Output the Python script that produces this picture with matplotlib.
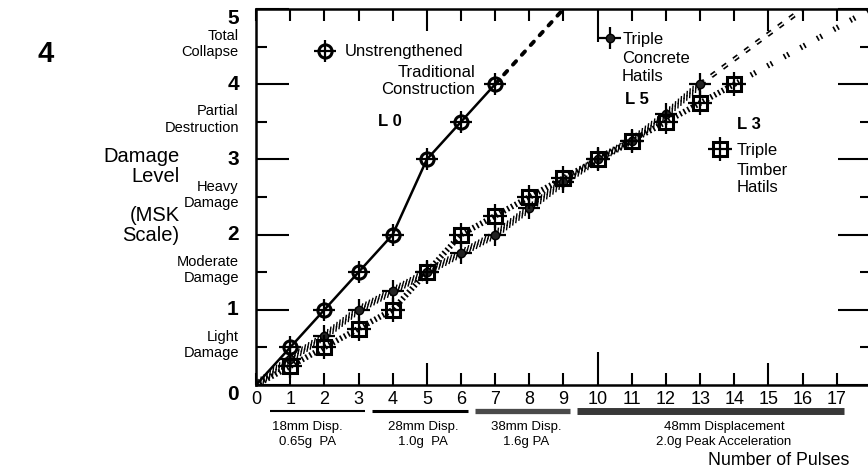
import matplotlib
matplotlib.use("Agg")
import matplotlib.pyplot as plt
import matplotlib.transforms as mtransforms
from matplotlib.legend import Legend
from matplotlib.patheffects import TickedStroke

plt.rcParams['font.family'] = ['Liberation Sans', 'DejaVu Sans']

# damage level (MSK scale) reached after each pulse
pulses_l0 = [0, 1, 2, 3, 4, 5, 6, 7]
damage_l0 = [0, 0.5, 1.0, 1.5, 2.0, 3.0, 3.5, 4.0]

pulses_l5 = [0, 1, 2, 3, 4, 5, 6, 7, 8, 9, 10, 11, 12, 13]
damage_l5 = [0, 0.35, 0.65, 1.0, 1.25, 1.5, 1.75, 2.0, 2.35, 2.7, 3.0, 3.25, 3.6, 4.0]

pulses_l3 = [0, 1, 2, 3, 4, 5, 6, 7, 8, 9, 10, 11, 12, 13, 14]
damage_l3 = [0, 0.25, 0.5, 0.75, 1.0, 1.5, 2.0, 2.25, 2.5, 2.75, 3.0, 3.25, 3.5, 3.75, 4.0]

# extrapolated trends towards collapse
proj_pulses_l0 = [7, 9]
proj_damage_l0 = [4.0, 5.0]
proj_pulses_l5 = [13, 16]
proj_damage_l5 = [4.0, 5.0]
proj_pulses_l3 = [14, 18]
proj_damage_l3 = [4.0, 5.0]

damage_levels = [0, 1, 2, 3, 4, 5]
damage_names = ["", "Light\nDamage", "Moderate\nDamage", "Heavy\nDamage",
                "Partial\nDestruction", "Total\nCollapse"]

pulse_ticks = list(range(18))

# shaking table input phases (first and last pulse)
phase_first = [1, 4, 7, 10]
phase_last = [3, 6, 9, 17]
phase_labels = ["18mm Disp.\n0.65g  PA", "28mm Disp.\n1.0g  PA", "38mm Disp.\n1.6g PA",
                "48mm Displacement\n2.0g Peak Acceleration"]

fig = plt.figure(figsize=(8.68, 4.70), dpi=100)
ax = fig.add_axes([256 / 868, 85 / 470, 615 / 868, 376 / 470])
ax.set_xlim(0, 18.0)
ax.set_ylim(0, 5)

for s in ax.spines.values():
    s.set_linewidth(1.8)

# ticks
ax.set_yticks(damage_levels)
ax.set_yticks([v + 0.5 for v in damage_levels[:-1]], minor=True)
ax.tick_params(axis='y', which='major', direction='in', length=24, width=1.5,
               left=True, right=True, labelleft=False)
ax.tick_params(axis='y', which='minor', direction='in', length=8, width=1.5,
               left=True, right=True)
ax.set_xticks(pulse_ticks)
ax.set_xticklabels([str(p) for p in pulse_ticks], fontsize=13)
ax.tick_params(axis='x', direction='in', length=8.5, width=1.5, top=True, bottom=True, pad=4)
for tick in ax.xaxis.get_major_ticks():
    loc = tick.get_loc()
    if loc == 10:
        tick.tick1line.set_markersize(24)
        tick.tick2line.set_markersize(24)
    elif loc in (5, 15):
        tick.tick1line.set_markersize(16)
        tick.tick2line.set_markersize(16)

# lines
ax.plot(pulses_l0, damage_l0, color='k', lw=1.8, zorder=2)
ax.plot(proj_pulses_l0, proj_damage_l0, color='k', lw=2.8, linestyle=(0, (1.2, 2.2)),
        dash_capstyle='round', zorder=2)

ax.plot(pulses_l5, damage_l5, color='k', lw=1.0, zorder=2,
        path_effects=[TickedStroke(spacing=2.8, angle=45, length=1.1),
                      TickedStroke(spacing=2.8, angle=-135, length=1.1)])
ax.plot(proj_pulses_l5, proj_damage_l5, color='k', lw=3.5,
        linestyle=(0, (4 / 3.5, 6 / 3.5)), dash_capstyle='butt', zorder=2)
ax.plot(proj_pulses_l5, proj_damage_l5, color='white', lw=1.1,
        linestyle=(0, (4 / 1.1, 6 / 1.1)), dash_capstyle='butt', zorder=2)

ax.plot(pulses_l3, damage_l3, color='k', lw=4.2, linestyle=(0, (0.3, 0.45)),
        dash_capstyle='butt', zorder=2)
ax.plot(proj_pulses_l3, proj_damage_l3, color='k', lw=4.0,
        linestyle=(0, (0.3, 0.4, 0.3, 2.4)), dash_capstyle='butt', zorder=2)

# markers
cross_l0, = ax.plot(pulses_l0[1:], damage_l0[1:], ls='none', marker='+', ms=16, mew=1.6,
                    color='k', zorder=3)
circ_l0, = ax.plot(pulses_l0[1:], damage_l0[1:], ls='none', marker='o', ms=9.5, mfc='none',
                   mec='k', mew=2.2, zorder=3)
cross_l5, = ax.plot(pulses_l5[1:], damage_l5[1:], ls='none', marker='+', ms=16, mew=1.6,
                    color='k', zorder=3)
dot_l5, = ax.plot(pulses_l5[1:], damage_l5[1:], ls='none', marker='o', ms=6, mfc='#222222',
                  mec='k', zorder=3)
cross_l3, = ax.plot(pulses_l3[1:], damage_l3[1:], ls='none', marker='+', ms=17, mew=1.6,
                    color='k', zorder=3)
sq_l3, = ax.plot(pulses_l3[1:], damage_l3[1:], ls='none', marker='s', ms=10, mfc='none',
                 mec='k', mew=2.2, zorder=3)

# legend keys, one per series
def add_key(handles, label, anchor, pad):
    leg = Legend(ax, [handles], [label], loc='center left', bbox_to_anchor=anchor,
                 frameon=False, handlelength=0, handletextpad=pad, borderpad=0,
                 borderaxespad=0, fontsize=12)
    ax.add_artist(leg)

add_key((cross_l0, circ_l0), "Unstrengthened", (0.112, 0.886), 1.2)
add_key((cross_l5, dot_l5), "Triple", (0.576, 0.918), 0.72)
add_key((cross_l3, sq_l3), "Triple", (0.754, 0.625), 1.0)

ax.text(6.41, 4.04, "Traditional\nConstruction", ha='right', va='center', fontsize=12,
        multialignment='right')
ax.text(10.71, 4.22, "Concrete\nHatils", ha='left', va='center', fontsize=12)
ax.text(14.08, 2.74, "Timber\nHatils", ha='left', va='center', fontsize=12)
ax.text(3.57, 3.50, "L 0", ha='left', va='center', fontsize=12, fontweight='bold')
ax.text(10.8, 3.79, "L 5", ha='left', va='center', fontsize=12, fontweight='bold')
ax.text(14.08, 3.46, "L 3", ha='left', va='center', fontsize=12, fontweight='bold')

# y axis labels
ytrans = ax.get_yaxis_transform()
for lvl, name in zip(damage_levels, damage_names):
    va = 'top' if lvl in (0, 5) else 'center'
    ax.text(-0.028, lvl, str(lvl), transform=ytrans, ha='right', va=va,
            fontsize=15, fontweight='bold', clip_on=False)
    if name:
        ax.text(-0.028, lvl - 0.47, name, transform=ytrans, ha='right', va='center',
                fontsize=10.5, multialignment='right', clip_on=False)

ax.text(-0.124, 2.51, "Damage\nLevel\n\n(MSK\nScale)", transform=ytrans, ha='right',
        va='center', fontsize=14.5, multialignment='right', linespacing=1.05, clip_on=False)

fig.text(0.052, 0.885, "4", ha='center', va='center', fontsize=21, fontweight='bold')

# input phase bars below the x axis
btrans = mtransforms.blended_transform_factory(ax.transData, ax.transAxes)
bar_widths = [1.5, 2.2, 3.8, 5.0]
bar_colors = ['k', 'k', '#4a4a4a', '#383838']
label_x = [1.5, 4.9, 7.9, 13.7]
for first, last, lab, w, c, lx in zip(phase_first, phase_last, phase_labels,
                                      bar_widths, bar_colors, label_x):
    ax.plot([first - 0.6, last + 0.2], [-0.069, -0.069], transform=btrans, color=c,
            lw=w, solid_capstyle='butt', clip_on=False)
    ax.text(lx, -0.096, lab, transform=btrans, ha='center', va='top', fontsize=9.5,
            linespacing=1.3, clip_on=False)

ax.text(17.38, -0.2, "Number of Pulses", transform=btrans, ha='right', va='center',
        fontsize=12.8, clip_on=False)

fig.savefig("out.png", dpi=100)
